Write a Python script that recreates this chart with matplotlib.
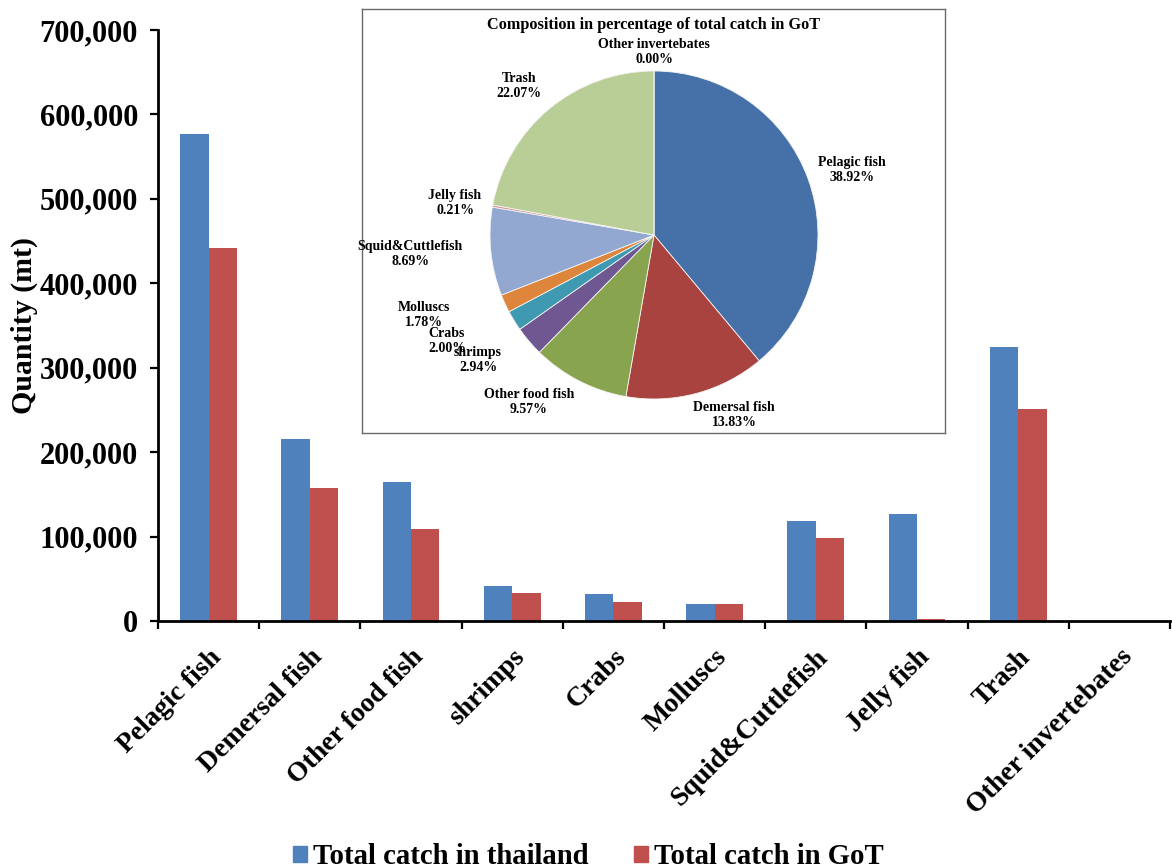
import matplotlib
matplotlib.use("Agg")
import matplotlib.pyplot as plt
import numpy as np
from matplotlib.patches import Patch
from matplotlib.ticker import FuncFormatter, FixedLocator

# ---- data -------------------------------------------------------------
categories = ["Pelagic fish", "Demersal fish", "Other food fish", "shrimps",
              "Crabs", "Molluscs", "Squid&Cuttlefish", "Jelly fish", "Trash",
              "Other invertebates"]
catch_thailand = [577000, 215000, 165000, 42000, 32000, 20500, 118000,
                  127000, 324000, 0]
catch_got = [442000, 157000, 109000, 33400, 22700, 20200, 98700, 2400,
             250700, 0]
got_share_pct = [38.92, 13.83, 9.57, 2.94, 2.00, 1.78, 8.69, 0.21, 22.07, 0.00]

# ---- style ------------------------------------------------------------
SERIF = "Liberation Serif"
plt.rcParams["font.family"] = SERIF
plt.rcParams["font.weight"] = "bold"

BLUE = "#4F81BD"
RED = "#C0504D"
pie_colors = ["#4671A8", "#A9433F", "#89A44E", "#6F5791", "#3E99B1",
              "#DC853B", "#93A8D0", "#D39593", "#B9CE96", "#A99BBD"]

fig = plt.figure(figsize=(11.72, 8.68), dpi=100)
W, H = 1172, 868

def fbox(x0, y0, x1, y1):
    """Pixel box (top-left origin) -> figure fraction rect."""
    return [x0 / W, 1 - y1 / H, (x1 - x0) / W, (y1 - y0) / H]

# ---- bar chart --------------------------------------------------------
ax = fig.add_axes(fbox(158, 30, 1170, 621))
x = np.arange(len(categories))
bw = 0.28
ax.bar(x - bw / 2, catch_thailand, bw, color=BLUE, label="Total catch in thailand")
ax.bar(x + bw / 2, catch_got, bw, color=RED, label="Total catch in GoT")

ax.set_xlim(-0.5, len(categories) - 0.5)
ax.set_ylim(0, 700000)
ax.set_yticks(np.arange(0, 700001, 100000))
ax.yaxis.set_major_formatter(FuncFormatter(lambda v, p: f"{int(v):,}"))
ax.tick_params(axis="y", direction="out", length=6, width=1.6, pad=8.4,
               labelsize=22)

ax.set_xticks(x)
ax.set_xticklabels(categories, rotation=45, ha="right", va="top",
                   rotation_mode="anchor", fontsize=20)
ax.tick_params(axis="x", which="major", length=0, pad=17)
ax.xaxis.set_minor_locator(FixedLocator(np.arange(-0.5, len(categories), 1.0)))
ax.tick_params(axis="x", which="minor", direction="out", length=5.5, width=1.6)

for s in ("top", "right"):
    ax.spines[s].set_visible(False)
for s in ("left", "bottom"):
    ax.spines[s].set_linewidth(2)

ax.set_ylabel("Quantity (mt)", fontsize=21.5, fontweight="bold")
ax.yaxis.set_label_coords(-0.119, 0.5)

fig.legend(handles=[Patch(color=BLUE), Patch(color=RED)],
           labels=["Total catch in thailand", "Total catch in GoT"],
           loc="center", bbox_to_anchor=(0.502, 0.013), ncol=2, frameon=False,
           prop={"family": SERIF, "weight": "bold", "size": 20.7},
           handlelength=0.5, handleheight=0.5, handletextpad=0.22,
           columnspacing=1.55)

# ---- inset pie --------------------------------------------------------
R = 164.0      # pie radius in pixels
cx, cy = 654, 235
bx0, by0, bx1, by1 = 362, 9, 945, 433
pax = fig.add_axes(fbox(bx0, by0, bx1, by1))
pax.pie(got_share_pct, colors=pie_colors, startangle=90, counterclock=False,
        radius=1.0, center=(0, 0),
        wedgeprops={"linewidth": 0.6, "edgecolor": "#f4f4f4"})
pax.set_aspect("auto")
pax.set_xlim((bx0 - cx) / R, (bx1 - cx) / R)
pax.set_ylim((cy - by1) / R, (cy - by0) / R)
pax.set_xticks([])
pax.set_yticks([])
pax.set_frame_on(True)
pax.patch.set_visible(True)
pax.set_facecolor("white")
for s in pax.spines.values():
    s.set_visible(True)
    s.set_linewidth(1.0)
    s.set_edgecolor("#6a6a6a")

pax.text(0.5, 0.963, "Composition in percentage of total catch in GoT",
         transform=pax.transAxes, ha="center", va="center",
         fontsize=11.7, fontweight="bold")

# label anchor points (pixels) for each wedge
label_px = [(852, 170), (734, 415), (529, 402), (478, 360), (447, 341),
            (424, 315), (410, 254), (455, 203), (519, 86), (654, 52)]
for name, pct, (lx, ly) in zip(categories, got_share_pct, label_px):
    pax.text((lx - cx) / R, (cy - ly) / R, f"{name}\n{pct:.2f}%",
             ha="center", va="center", fontsize=10, fontweight="bold",
             linespacing=1.15)

fig.savefig("out.png", dpi=100)
